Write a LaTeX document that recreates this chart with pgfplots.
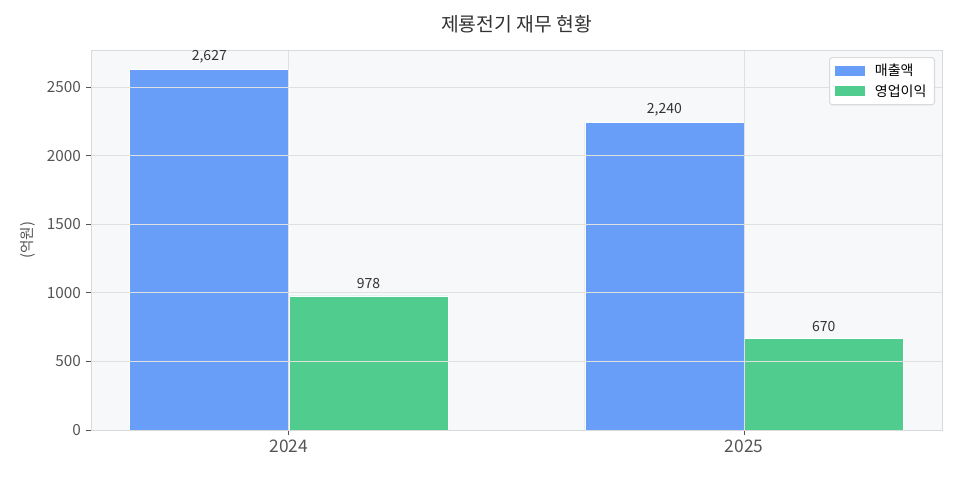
\documentclass[border=0pt]{standalone}
\usepackage{fontspec}
\setmainfont{Noto Sans CJK KR}
\usepackage{pgfplots}
\pgfplotsset{compat=1.18}
\definecolor{bblue}{HTML}{699EF8}
\definecolor{bgreen}{HTML}{50CD8E}
\definecolor{bgc}{HTML}{F7F8FA}
\definecolor{gridc}{HTML}{E0E0E0}
\definecolor{spine}{HTML}{DADADA}
\definecolor{tickc}{HTML}{555555}
\definecolor{titlec}{HTML}{333333}
\begin{document}
\begin{tikzpicture}
\begin{axis}[
  scale only axis, width=638.25pt, height=285pt,
  xmin=-0.435, xmax=1.435, ymin=0, ymax=2770,
  xtick={0,1}, xticklabels={2024,2025},
  ytick={0,500,1000,1500,2000,2500},
  /pgf/number format/assume math mode=true,
  /pgf/number format/1000 sep={},
  axis background/.style={fill=bgc},
  axis line style={spine, line width=0.7pt},
  xmajorgrids, ymajorgrids,
  major grid style={gridc, line width=0.7pt},
  axis on top,
  tick style={tickc, line width=0.7pt},
  tick align=outside, major tick length=4pt,
  xtick pos=bottom, ytick pos=left,
  xticklabel style={font=\fontsize{13}{15}\selectfont, text=tickc},
  yticklabel style={font=\fontsize{11.5}{14}\selectfont, text=tickc},
  ylabel={(억원)},
  ylabel style={at={(axis description cs:-0.0745,0.5)}, anchor=center, font=\fontsize{11}{13}\selectfont, text=tickc},
  title={제룡전기 재무 현황},
  title style={at={(axis description cs:0.5,1)}, anchor=center, yshift=13pt, font=\fontsize{14.5}{17}\selectfont, text=titlec},
  ybar, bar width=0.35,
  nodes near coords={\pgfmathprintnumber[assume math mode=true,1000 sep={,}]{\pgfplotspointmeta}},
  nodes near coords style={font=\fontsize{10.5}{12}\selectfont, text=titlec, yshift=1.5pt},
  legend style={at={(axis description cs:1,1)}, anchor=north east, xshift=-5.25pt, yshift=-5.25pt,
    draw=spine, line width=0.8pt, rounded corners=2pt, fill=white,
    font=\fontsize{10.5}{12}\selectfont, row sep=1pt, inner sep=3pt, inner xsep=4pt},
  legend cell align=left,
  legend image code/.code={\fill[#1, draw=none, sharp corners] (0pt,-3.75pt) rectangle (22.5pt,3.75pt); \path[draw=none, fill=none] (0pt,0pt) -- (28pt,0pt);},
]
\addplot[fill=bblue, draw=white, line width=0.4pt, bar shift=-0.175] coordinates {(0,2627) (1,2240)};
\addplot[fill=bgreen, draw=white, line width=0.4pt, bar shift=0.175] coordinates {(0,978) (1,670)};
\legend{매출액, 영업이익}
\end{axis}
\pgfresetboundingbox
\path[use as bounding box] ([xshift=-68.25pt,yshift=-37.5pt]current axis.south west) rectangle ([xshift=13.5pt,yshift=37.5pt]current axis.north east);
\end{tikzpicture}
\end{document}
